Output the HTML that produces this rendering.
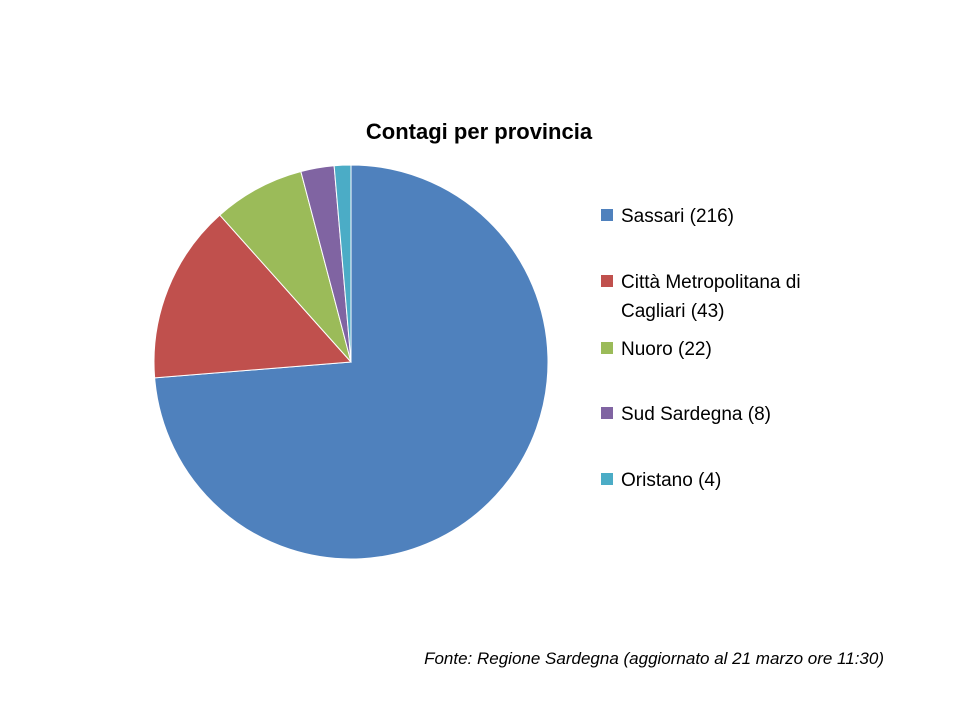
<!DOCTYPE html>
<html><head><meta charset="utf-8"><style>
body{margin:0;background:#fff;}
svg text{font-family:"Liberation Sans",sans-serif;}
</style></head><body>
<svg width="960" height="720">
<text x="479" y="139" text-anchor="middle" font-size="22" font-weight="bold" fill="#000">Contagi per provincia</text>
<g id="slices"></g>
<g id="legend"></g>
<text x="884" y="664" text-anchor="end" font-size="17" font-style="italic" fill="#000">Fonte: Regione Sardegna (aggiornato al 21 marzo ore 11:30)</text>
</svg>
<script>
const categories=["Sassari","Città Metropolitana di|Cagliari","Nuoro","Sud Sardegna","Oristano"];
const values=[216,43,22,8,4];
const colors=["#4f81bd","#c0504d","#9bbb59","#8064a2","#4bacc6"];
const legendY=[215,281,348,413,479];
const cx=351,cy=362,r=197;
const ns="http://www.w3.org/2000/svg";
const total=values.reduce((a,b)=>a+b,0);
let a0=-Math.PI/2;
const g=document.getElementById('slices');
values.forEach((v,i)=>{
  const a1=a0+v/total*2*Math.PI;
  const x0=cx+r*Math.cos(a0),y0=cy+r*Math.sin(a0),x1=cx+r*Math.cos(a1),y1=cy+r*Math.sin(a1);
  const p=document.createElementNS(ns,'path');
  p.setAttribute('d',`M${cx},${cy}L${x0},${y0}A${r},${r} 0 ${a1-a0>Math.PI?1:0} 1 ${x1},${y1}Z`);
  p.setAttribute('fill',colors[i]);p.setAttribute('stroke','#fff');p.setAttribute('stroke-width','1');
  
  
  g.appendChild(p);a0=a1;
});
const lg=document.getElementById('legend');
categories.forEach((c,i)=>{
  const y=legendY[i];
  const rc=document.createElementNS(ns,'rect');
  rc.setAttribute('x',601);rc.setAttribute('y',y-6);rc.setAttribute('width',12);rc.setAttribute('height',12);rc.setAttribute('fill',colors[i]);
  
  
  lg.appendChild(rc);
  const parts=c.split('|');
  parts.forEach((t,j)=>{
    const tx=document.createElementNS(ns,'text');
    tx.setAttribute('x',621);tx.setAttribute('y',y+7+j*29);tx.setAttribute('font-size','19');
    tx.textContent=t+(j==parts.length-1?` (${values[i]})`:'');
    
    
    lg.appendChild(tx);
  });
});
</script>
</body></html>
